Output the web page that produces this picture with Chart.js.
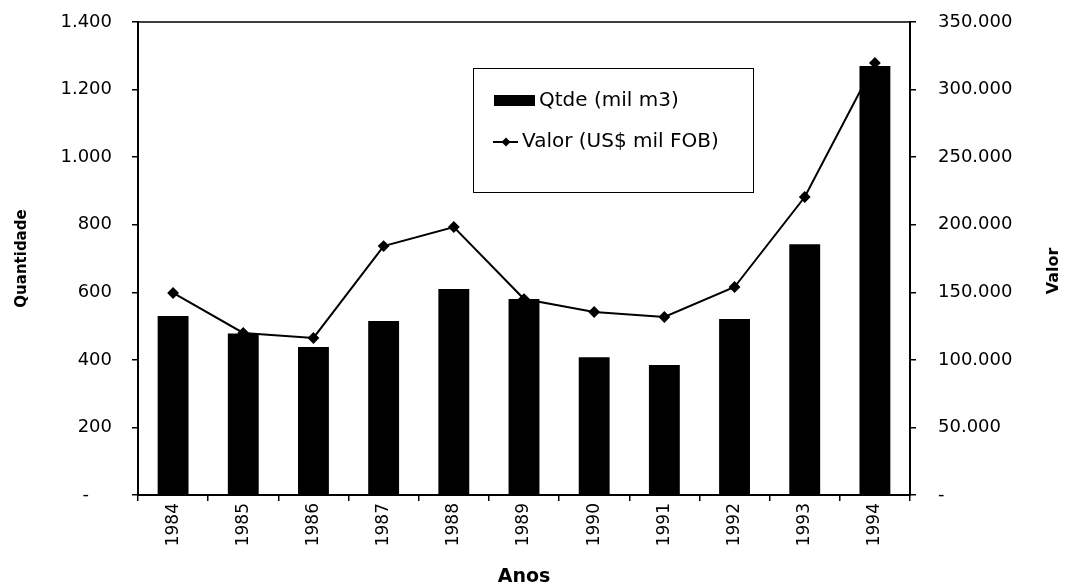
<!DOCTYPE html>
<html>
<head>
<meta charset="utf-8">
<script src="https://cdn.jsdelivr.net/npm/chart.js@4.4.0/dist/chart.umd.min.js"></script>
<style>
  html, body { margin: 0; padding: 0; background: #fff; }
  #wrap { width: 1066px; height: 588px; }
</style>
</head>
<body>
<div id="wrap"><canvas id="chart"></canvas></div>
<script>
// dados
const anos = ['1984', '1985', '1986', '1987', '1988', '1989', '1990', '1991', '1992', '1993', '1994'];
const qtde = [530, 478, 438, 515, 610, 580, 408, 385, 521, 742, 1270];
const valor = [149500, 119900, 116200, 184200, 198300, 145000, 135400, 131700, 153900, 220500, 319700];
const qtdeMax = 1400, qtdeStep = 200;
const valorMax = 350000, valorStep = 50000;

const FONT = 'DejaVu Sans';

function fmt(v, pad) {
  if (v === 0) return pad ? '-    ' : '-';
  return String(v).replace(/\B(?=(\d{3})+(?!\d))/g, '.');
}

// legenda desenhada dentro da área do gráfico + título do eixo direito
const extras = {
  id: 'extras',
  afterDraw(chart) {
    const ctx = chart.ctx;
    const a = chart.chartArea;
    ctx.save();
    // moldura da área de plotagem
    ctx.strokeStyle = '#000';
    ctx.lineWidth = 1.5;
    ctx.strokeRect(a.left, a.top, a.right - a.left, a.bottom - a.top);

    // legenda
    ctx.lineWidth = 1;
    ctx.strokeRect(473.5, 68.5, 280, 124);
    ctx.fillStyle = '#000';
    ctx.fillRect(494, 95, 41, 11);
    ctx.font = '20px "' + FONT + '"';
    ctx.textBaseline = 'middle';
    ctx.textAlign = 'left';
    ctx.fillText(chart.data.datasets[0].label, 539, 101);
    ctx.lineWidth = 2;
    ctx.beginPath();
    ctx.moveTo(493, 142);
    ctx.lineTo(518, 142);
    ctx.stroke();
    ctx.beginPath();
    ctx.moveTo(506, 137.5);
    ctx.lineTo(510.5, 142);
    ctx.lineTo(506, 146.5);
    ctx.lineTo(501.5, 142);
    ctx.closePath();
    ctx.fill();
    ctx.fillText(chart.data.datasets[1].label, 522, 142);

    // título do eixo direito
    ctx.translate(1054, 271);
    ctx.rotate(-Math.PI / 2);
    ctx.font = 'bold 16px "' + FONT + '"';
    ctx.textAlign = 'center';
    ctx.fillText('Valor', 0, 0);
    ctx.restore();
  }
};

function noPad(s) {
  s.paddingTop = 0;
  s.paddingBottom = 0;
  s.paddingLeft = 0;
  s.paddingRight = 0;
}

new Chart(document.getElementById('chart'), {
  data: {
    labels: anos,
    datasets: [
      {
        type: 'bar',
        label: 'Qtde (mil m3)',
        data: qtde,
        yAxisID: 'y',
        backgroundColor: '#000',
        borderWidth: 0,
        barPercentage: 0.44,
        categoryPercentage: 1,
        order: 0
      },
      {
        type: 'line',
        label: 'Valor (US$ mil FOB)',
        data: valor,
        yAxisID: 'y1',
        borderColor: '#000',
        backgroundColor: '#000',
        borderWidth: 2,
        pointStyle: 'rectRot',
        pointRadius: 4.5,
        tension: 0,
        order: 1
      }
    ]
  },
  options: {
    responsive: true,
    maintainAspectRatio: false,
    animation: false,
    devicePixelRatio: 1,
    layout: { padding: { top: 22, left: 0, right: 0, bottom: 0 } },
    plugins: {
      legend: { display: false },
      tooltip: { enabled: false }
    },
    scales: {
      x: {
        grid: { display: true, drawOnChartArea: false, tickLength: 6, color: '#000', lineWidth: 1.5 },
        border: { color: '#000', width: 2 },
        ticks: {
          minRotation: 90, maxRotation: 90, padding: 2, color: '#000',
          font: { family: FONT, size: 17 }
        },
        title: {
          display: true, text: 'Anos', color: '#000',
          font: { family: FONT, size: 19, weight: 'bold' },
          padding: { top: 0, bottom: 0 }
        },
        afterFit(s) { s.height = 93; noPad(s); }
      },
      y: {
        position: 'left',
        min: 0, max: qtdeMax,
        grid: { display: true, drawOnChartArea: false, tickLength: 6, color: '#000', lineWidth: 1.5 },
        border: { color: '#000', width: 2 },
        ticks: {
          stepSize: qtdeStep, padding: 20, color: '#000',
          font: { family: FONT, size: 18 },
          callback: v => fmt(v, true)
        },
        title: {
          display: true, text: 'Quantidade', color: '#000',
          font: { family: FONT, size: 15, weight: 'bold' },
          padding: { top: 13, bottom: 0 }
        },
        afterFit(s) { s.width = 138; noPad(s); }
      },
      y1: {
        position: 'right',
        min: 0, max: valorMax,
        grid: { display: true, drawOnChartArea: false, tickLength: 6, color: '#000', lineWidth: 1.5 },
        border: { color: '#000', width: 2 },
        ticks: {
          stepSize: valorStep, padding: 22, color: '#000',
          font: { family: FONT, size: 18 },
          callback: v => fmt(v, false)
        },
        afterFit(s) { s.width = 156; noPad(s); }
      }
    }
  },
  plugins: [extras]
});
</script>
</body>
</html>
